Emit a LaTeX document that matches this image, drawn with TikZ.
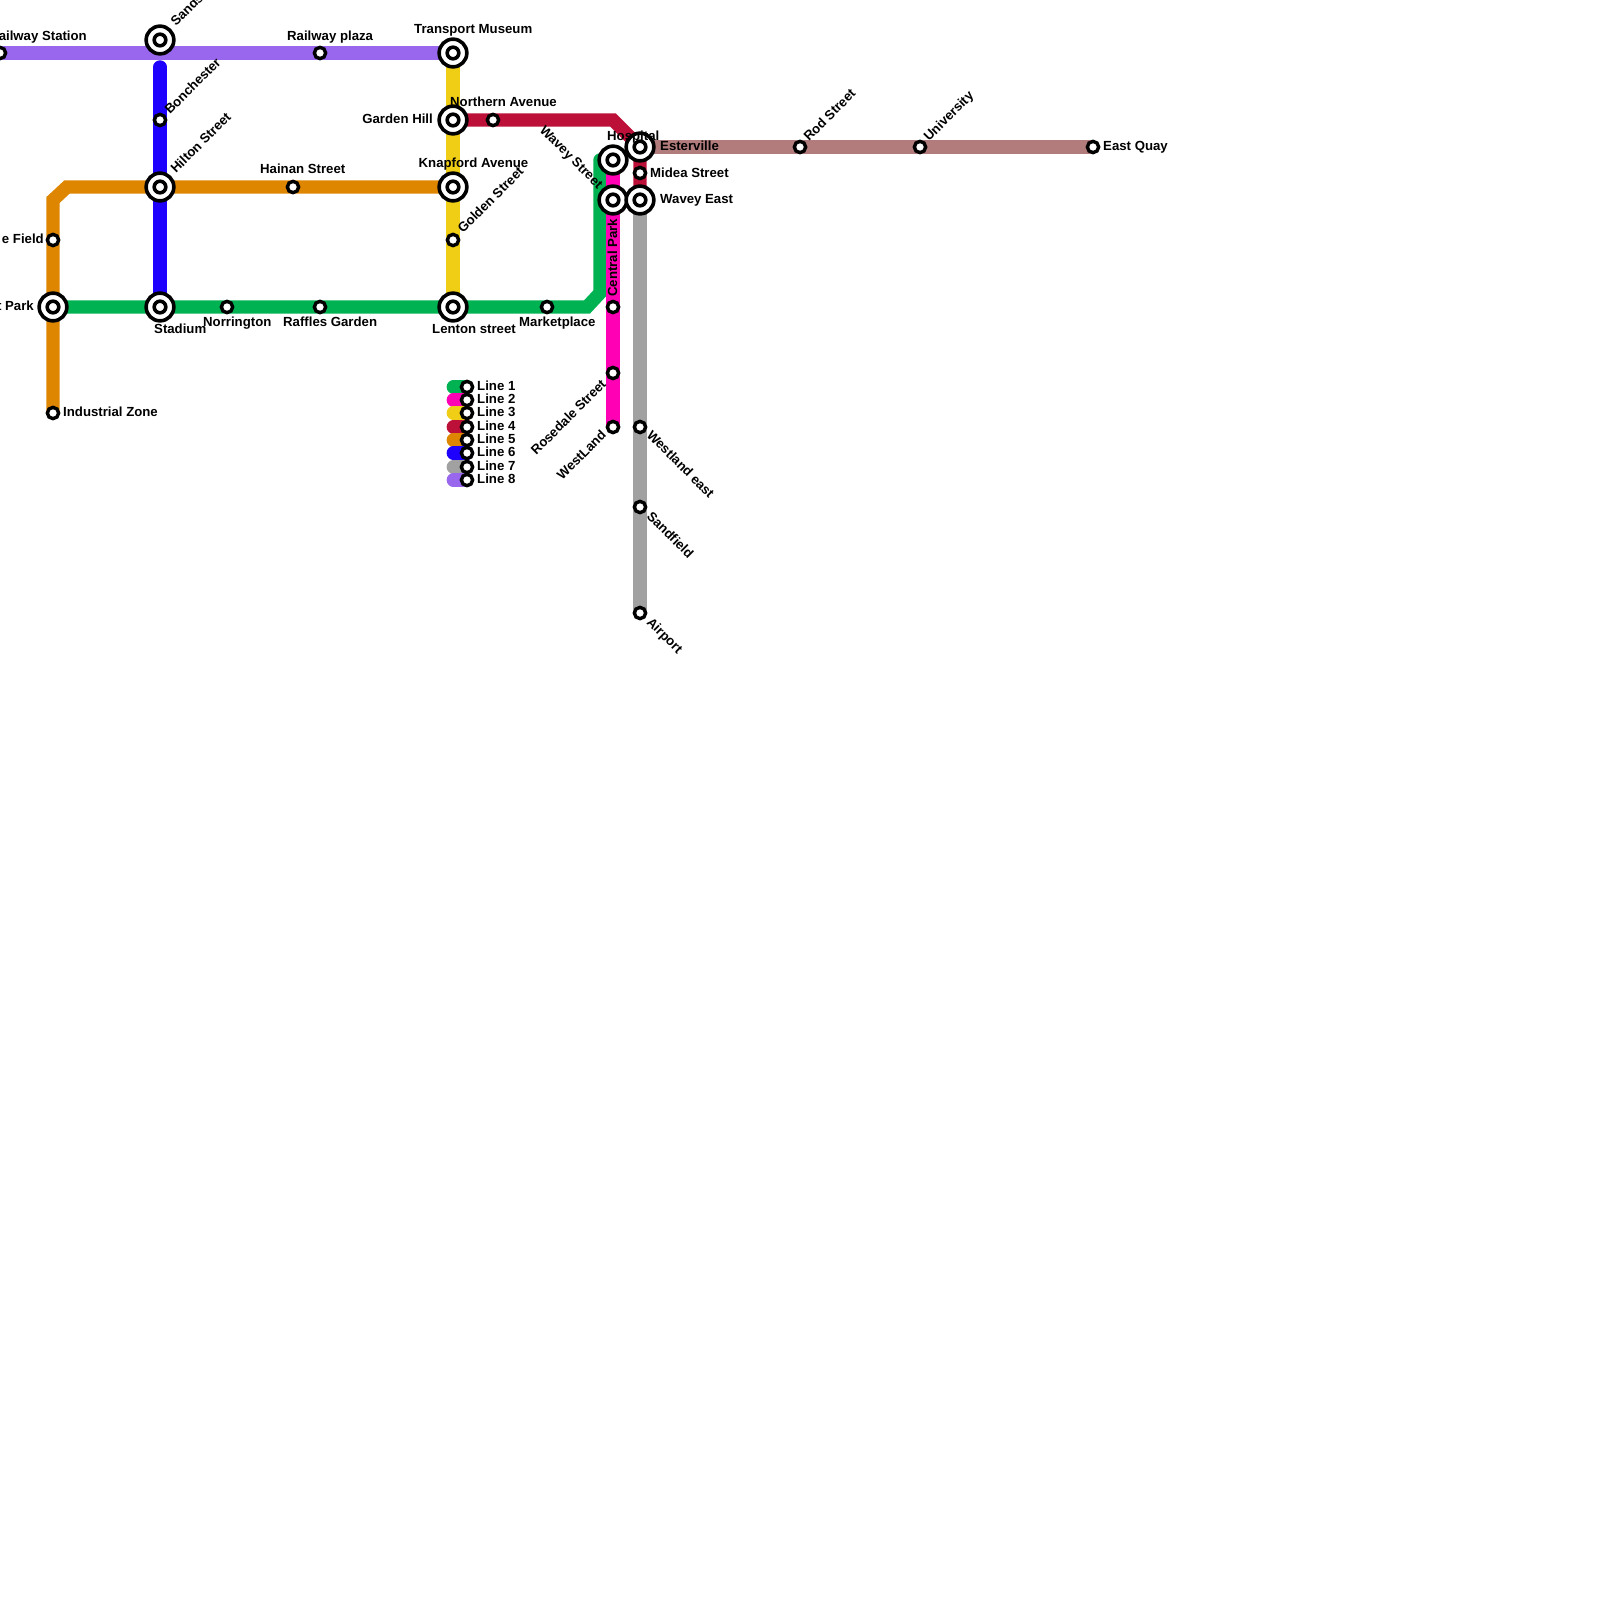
\documentclass[tikz,border=0pt]{standalone}
\usepackage{fontspec}
\setmainfont{Liberation Sans}
\pgfdeclarelayer{bg}
\pgfsetlayers{bg,main}
\definecolor{lone}{HTML}{00B251}
\definecolor{ltwo}{HTML}{FF00B4}
\definecolor{lthree}{HTML}{F0CE15}
\definecolor{lfour}{HTML}{BD1038}
\definecolor{lfive}{HTML}{DF8600}
\definecolor{lsix}{HTML}{1E00FF}
\definecolor{lseven}{HTML}{A1A1A1}
\definecolor{leight}{HTML}{9966EE}
\definecolor{lnine}{HTML}{B27C7C}
\tikzset{
  x=1pt,y=-1pt,
  line/.style={line width=13.33pt,line join=miter},
  key/.style={line width=13.33pt,line cap=round},
  stn/.style={circle,draw=black,fill=white,line width=3.4pt,minimum size=11.3pt,inner sep=0pt},
  big/.style={circle,draw=black,fill=white,line width=3.6pt,minimum size=27.7pt,inner sep=0pt,
    path picture={\draw[line width=3.6pt,black] (path picture bounding box.center) circle (5.8pt);}},
  lab/.style={inner sep=0pt,font=\bfseries\fontsize{13.2}{15}\selectfont,text=black},
  lw/.style={lab,anchor=base west},
  le/.style={lab,anchor=base east},
  ur/.style={lw,rotate=45},
  dr/.style={lw,rotate=-45},
  dl/.style={le,rotate=45},
}
\begin{document}
\begin{tikzpicture}
\useasboundingbox (0,0) rectangle (1600,1600);
\clip (0,0) rectangle (1600,1600);
% stations
\node[stn] (railway) at (0,53) {};
\node[big] (sands) at (160,40) {};
\node[stn] (plaza) at (320,53) {};
\node[big] (museum) at (453,53) {};
\node[stn] (bonch) at (160,120) {};
\node[big] (hilton) at (160,187) {};
\node[stn] (hainan) at (293,187) {};
\node[stn] (field) at (53,240) {};
\node[big] (park) at (53,307) {};
\node[big] (stadium) at (160,307) {};
\node[stn] (norr) at (227,307) {};
\node[stn] (raffles) at (320,307) {};
\node[stn] (indus) at (53,413) {};
\node[big] (garden) at (453,120) {};
\node[stn] (north) at (493,120) {};
\node[big] (knap) at (453,187) {};
\node[stn] (golden) at (453,240) {};
\node[big] (lenton) at (453,307) {};
\node[stn] (market) at (547,307) {};
\node[stn] (central) at (613,307) {};
\node[big] (hosp) at (613,160) {};
\node[big] (wavey) at (613,200) {};
\node[stn] (rose) at (613,373) {};
\node[stn] (westl) at (613,427) {};
\node[big] (ester) at (640,147) {};
\node[stn] (midea) at (640,173) {};
\node[big] (waveye) at (640,200) {};
\node[stn] (weste) at (640,427) {};
\node[stn] (sandf) at (640,507) {};
\node[stn] (airport) at (640,613) {};
\node[stn] (rod) at (800,147) {};
\node[stn] (univ) at (920,147) {};
\node[stn] (quay) at (1093,147) {};
% legend stations
\foreach \n/\yy in {1/387,2/400,3/413,4/427,5/440,6/453,7/467,8/480}{
  \node[stn] (ks\n) at (467,\yy) {};
  \coordinate (ke\n) at (453.3,\yy);
  \node[lw] (kt\n) at (477,\yy+3.5) {Line \n};
}
\coordinate (bluetop) at (160,67);
% lines
\begin{pgfonlayer}{bg}
\draw[line,lfive] (indus.center) -- (field.center) -- (53,200) -- (67,187) -- (hilton.center) -- (hainan.center) -- (knap.center);
\draw[line,lsix,line cap=round] (bluetop) -- (bonch.center) -- (stadium.center);
\draw[line,lthree] (museum.center) -- (garden.center) -- (knap.center) -- (golden.center) -- (lenton.center);
\draw[line,leight] (railway.center) -- (plaza.center) -- (museum.center);
\draw[line,lone,line cap=round] (park.center) -- (lenton.center) -- (market.center) -- (587,307) -- (600,293) -- (600,160);
\draw[line,ltwo] (hosp.center) -- (westl.center);
\draw[line,lfour] (garden.center) -- (613,120) -- (ester.center) -- (waveye.center);
\draw[line,lseven] (waveye.center) -- (airport.center);
\draw[line,lnine] (ester.center) -- (quay.center);
\draw[key,lone] (ke1) -- (ks1.center);
\draw[key,ltwo] (ke2) -- (ks2.center);
\draw[key,lthree] (ke3) -- (ks3.center);
\draw[key,lfour] (ke4) -- (ks4.center);
\draw[key,lfive] (ke5) -- (ks5.center);
\draw[key,lsix] (ke6) -- (ks6.center);
\draw[key,lseven] (ke7) -- (ks7.center);
\draw[key,leight] (ke8) -- (ks8.center);
\end{pgfonlayer}
% labels
\node[le] (t1) at (87,40.5) {Railway Station};
\node[ur] (t2) at (176,27) {Sands};
\node[lw] (t3) at (287,40.5) {Railway plaza};
\node[lw] (t4) at (414,34) {Transport Museum};
\node[ur] (t5) at (170,115) {Bonchester};
\node[ur] (t6) at (176,174) {Hilton Street};
\node[lw] (t7) at (260,173) {Hainan Street};
\node[le] (t8) at (44,243) {e Field};
\node[le] (t9) at (34,310) {t Park};
\node[lw] (t10) at (154,333) {Stadium};
\node[lw] (t11) at (203,326) {Norrington};
\node[lw] (t12) at (283,326) {Raffles Garden};
\node[lw] (t13) at (63,416.5) {Industrial Zone};
\node[le] (t14) at (433,124) {Garden Hill};
\node[lw] (t15) at (450,107) {Northern Avenue};
\node[lw] (t16) at (418.5,167) {Knapford Avenue};
\node[ur] (t17) at (463,234) {Golden Street};
\node[lw] (t18) at (432,333) {Lenton street};
\node[lw] (t19) at (519,326) {Marketplace};
\node[lab,anchor=base west,rotate=90] (t20) at (617,297) {Central Park};
\node[lw] (t21) at (607,140) {Hospital};
\node[dr] (t22) at (539,131) {Wavey Street};
\node[lw] (t23) at (660,150) {Esterville};
\node[lw] (t24) at (650,177) {Midea Street};
\node[lw] (t25) at (660,203) {Wavey East};
\node[dl] (t26) at (607,385) {Rosedale Street};
\node[dl] (t27) at (607,436) {WestLand};
\node[dr] (t28) at (646,436) {Westland east};
\node[dr] (t29) at (646,517) {Sandfield};
\node[dr] (t30) at (646,623) {Airport};
\node[ur] (t31) at (809,142) {Rod Street};
\node[ur] (t32) at (929,142) {University};
\node[lw] (t33) at (1103,150) {East Quay};
\end{tikzpicture}
\end{document}
